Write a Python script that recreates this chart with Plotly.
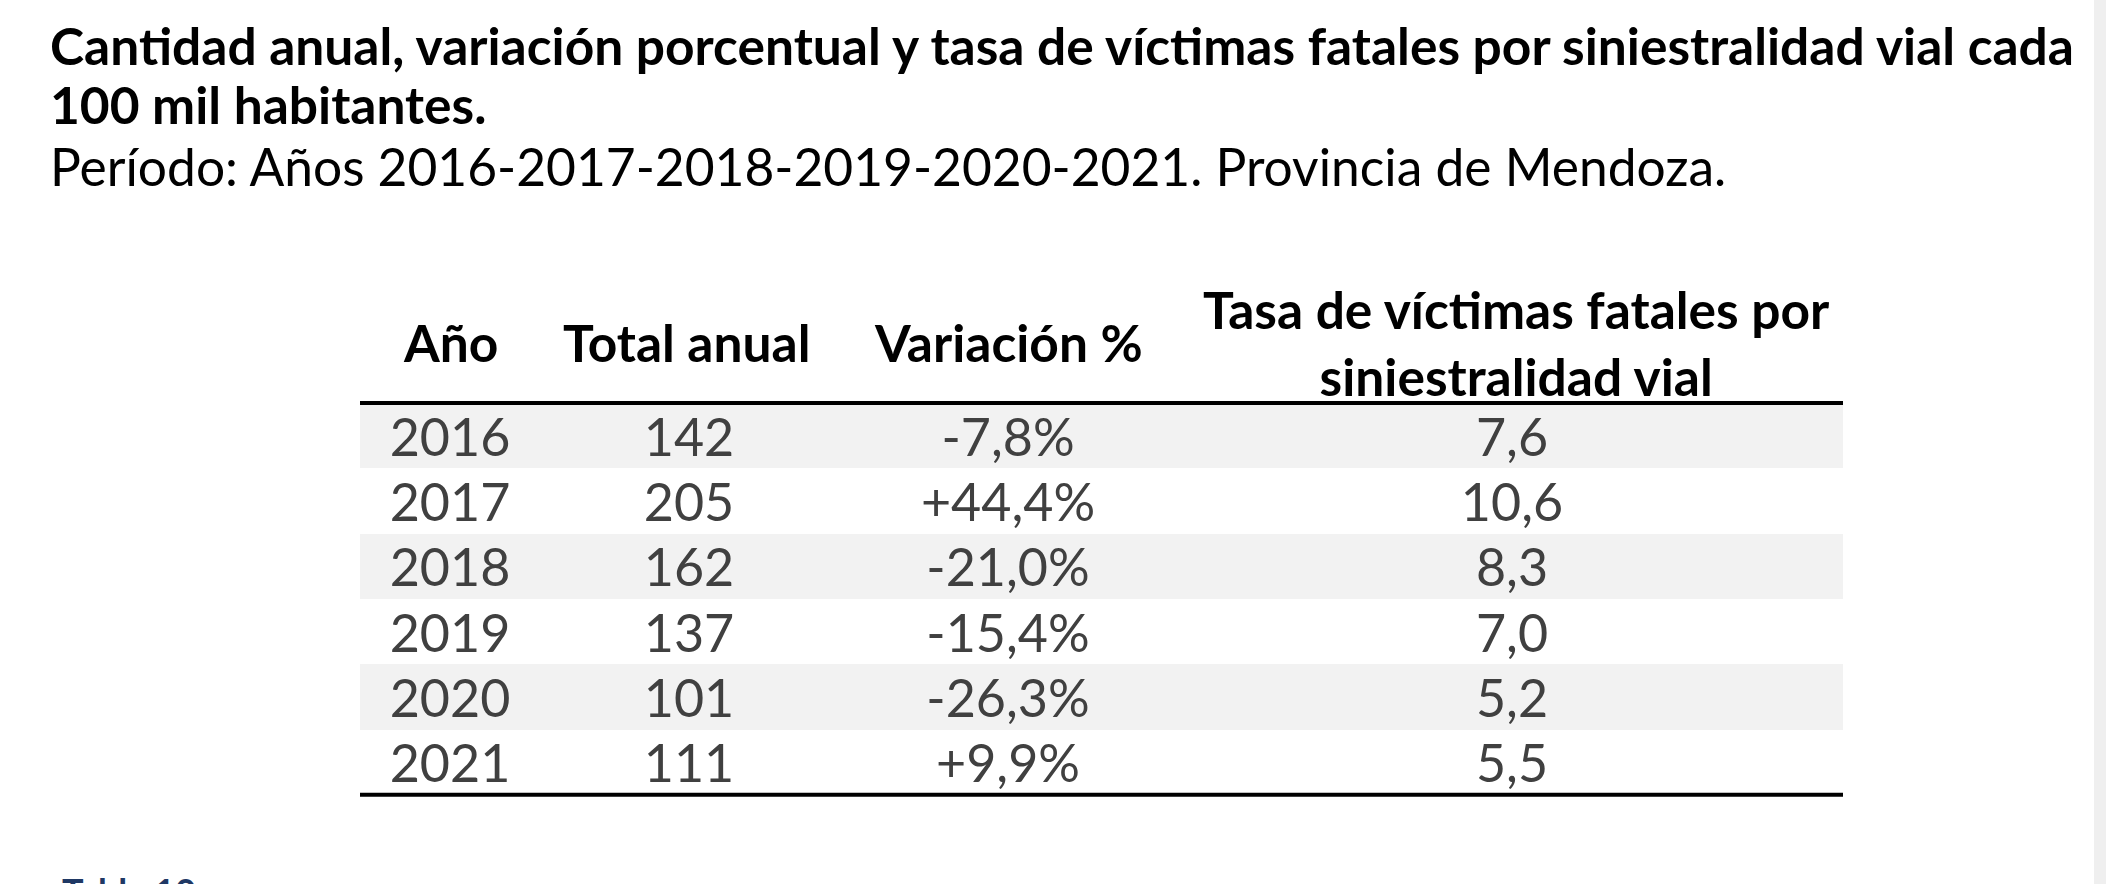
import plotly.graph_objects as go

# ---------------- data ----------------
years = [2016, 2017, 2018, 2019, 2020, 2021]
total_anual = [142, 205, 162, 137, 101, 111]
variacion_pct = [-7.8, 44.4, -21.0, -15.4, -26.3, 9.9]
tasa = [7.6, 10.6, 8.3, 7.0, 5.2, 5.5]

headers = ["Año", "Total anual", "Variación %",
           "Tasa de víctimas fatales por<br>siniestralidad vial"]

title_bold = ["Cantidad anual, variación porcentual y tasa de víctimas fatales por siniestralidad vial cada",
              "100 mil habitantes."]
subtitle = "Período: Años 2016-2017-2018-2019-2020-2021. Provincia de Mendoza."
caption = "Tabla 10"

# ---------------- layout constants ----------------
W, H = 2106, 884
FONT = "Lato"
TABLE_L, TABLE_R = 360, 1843
TABLE_TOP = 403
ROW_H = 65.3
TEXT_DY = 7
COL_X = [450, 689, 1008, 1512]
HEAD_X = [450, 687, 1008, 1516]
DATA_FS = 52
HEAD_FS = 51.5
TITLE_FS = 51.5


def fmt_dec(v):
    return f"{v:.1f}".replace(".", ",")


def fmt_var(v):
    return f"{v:+.1f}%".replace(".", ",")


cols_text = [
    [str(y) for y in years],
    [str(t) for t in total_anual],
    [fmt_var(v) for v in variacion_pct],
    [fmt_dec(v) for v in tasa],
]

n = len(years)
row_y = [TABLE_TOP + ROW_H * (i + 0.5) for i in range(n)]
table_bottom = TABLE_TOP + ROW_H * n

fig = go.Figure()

# alternate row shading
shade_idx = [i for i in range(n) if i % 2 == 0]
fig.add_trace(go.Bar(
    orientation="h",
    y=[row_y[i] for i in shade_idx],
    x=[TABLE_R - TABLE_L] * len(shade_idx),
    base=[TABLE_L] * len(shade_idx),
    width=ROW_H,
    marker=dict(color="#f2f2f2", line=dict(width=0)),
    hoverinfo="skip",
))

# cell texts
for cx, texts in zip(COL_X, cols_text):
    fig.add_trace(go.Scatter(
        x=[cx] * n, y=[y + TEXT_DY for y in row_y], text=texts, mode="text",
        textposition="middle center",
        textfont=dict(family=FONT, size=DATA_FS, color="#404040"),
        hoverinfo="skip",
    ))

annotations = []
# header
HEAD_Y = 342
for hx, h in zip(HEAD_X, headers):
    text = "<br>".join(f"<b>{p}</b>" for p in h.split("<br>"))
    annotations.append(dict(
        x=hx, y=HEAD_Y, xref="x", yref="y", text=text, showarrow=False,
        xanchor="center", yanchor="middle", align="center",
        font=dict(family=FONT, size=HEAD_FS, color="#000000"),
    ))

# titles
TITLE_X = 48
TITLE_Y = [44.5, 104, 166]
for t, yy in zip(title_bold, TITLE_Y[:2]):
    annotations.append(dict(
        x=TITLE_X, y=yy, xref="x", yref="y", text=f"<b>{t}</b>", showarrow=False,
        xanchor="left", yanchor="middle",
        font=dict(family=FONT, size=TITLE_FS, color="#000000"),
    ))
annotations.append(dict(
    x=TITLE_X, y=TITLE_Y[2], xref="x", yref="y", text=subtitle, showarrow=False,
    xanchor="left", yanchor="middle",
    font=dict(family=FONT, size=TITLE_FS, color="#000000"),
))
# caption (cut off at the bottom edge, as in the source)
annotations.append(dict(
    x=60, y=867, xref="x", yref="y", text=f"<b>{caption}</b>", showarrow=False,
    xanchor="left", yanchor="top",
    font=dict(family=FONT, size=36, color="#1f3864"),
))

shapes = [
    dict(type="line", xref="x", yref="y", x0=TABLE_L, x1=TABLE_R, y0=TABLE_TOP, y1=TABLE_TOP,
         line=dict(color="#000000", width=4)),
    dict(type="line", xref="x", yref="y", x0=TABLE_L, x1=TABLE_R, y0=table_bottom, y1=table_bottom,
         line=dict(color="#000000", width=4)),
    dict(type="rect", xref="x", yref="y", x0=2094, x1=W, y0=0, y1=H,
         fillcolor="#efefef", line=dict(width=0), layer="above"),
]

fig.update_layout(
    width=W, height=H,
    margin=dict(l=0, r=0, t=0, b=0),
    paper_bgcolor="white", plot_bgcolor="white",
    showlegend=False,
    xaxis=dict(range=[0, W], visible=False, fixedrange=True),
    yaxis=dict(range=[H, 0], visible=False, fixedrange=True),
    annotations=annotations,
    shapes=shapes,
    bargap=0,
)

fig.write_html(
    "out.html",
    config={"displayModeBar": False},
    post_script="document.body.style.margin='0px';document.body.style.padding='0px';"
                "document.body.style.overflow='hidden';",
)
